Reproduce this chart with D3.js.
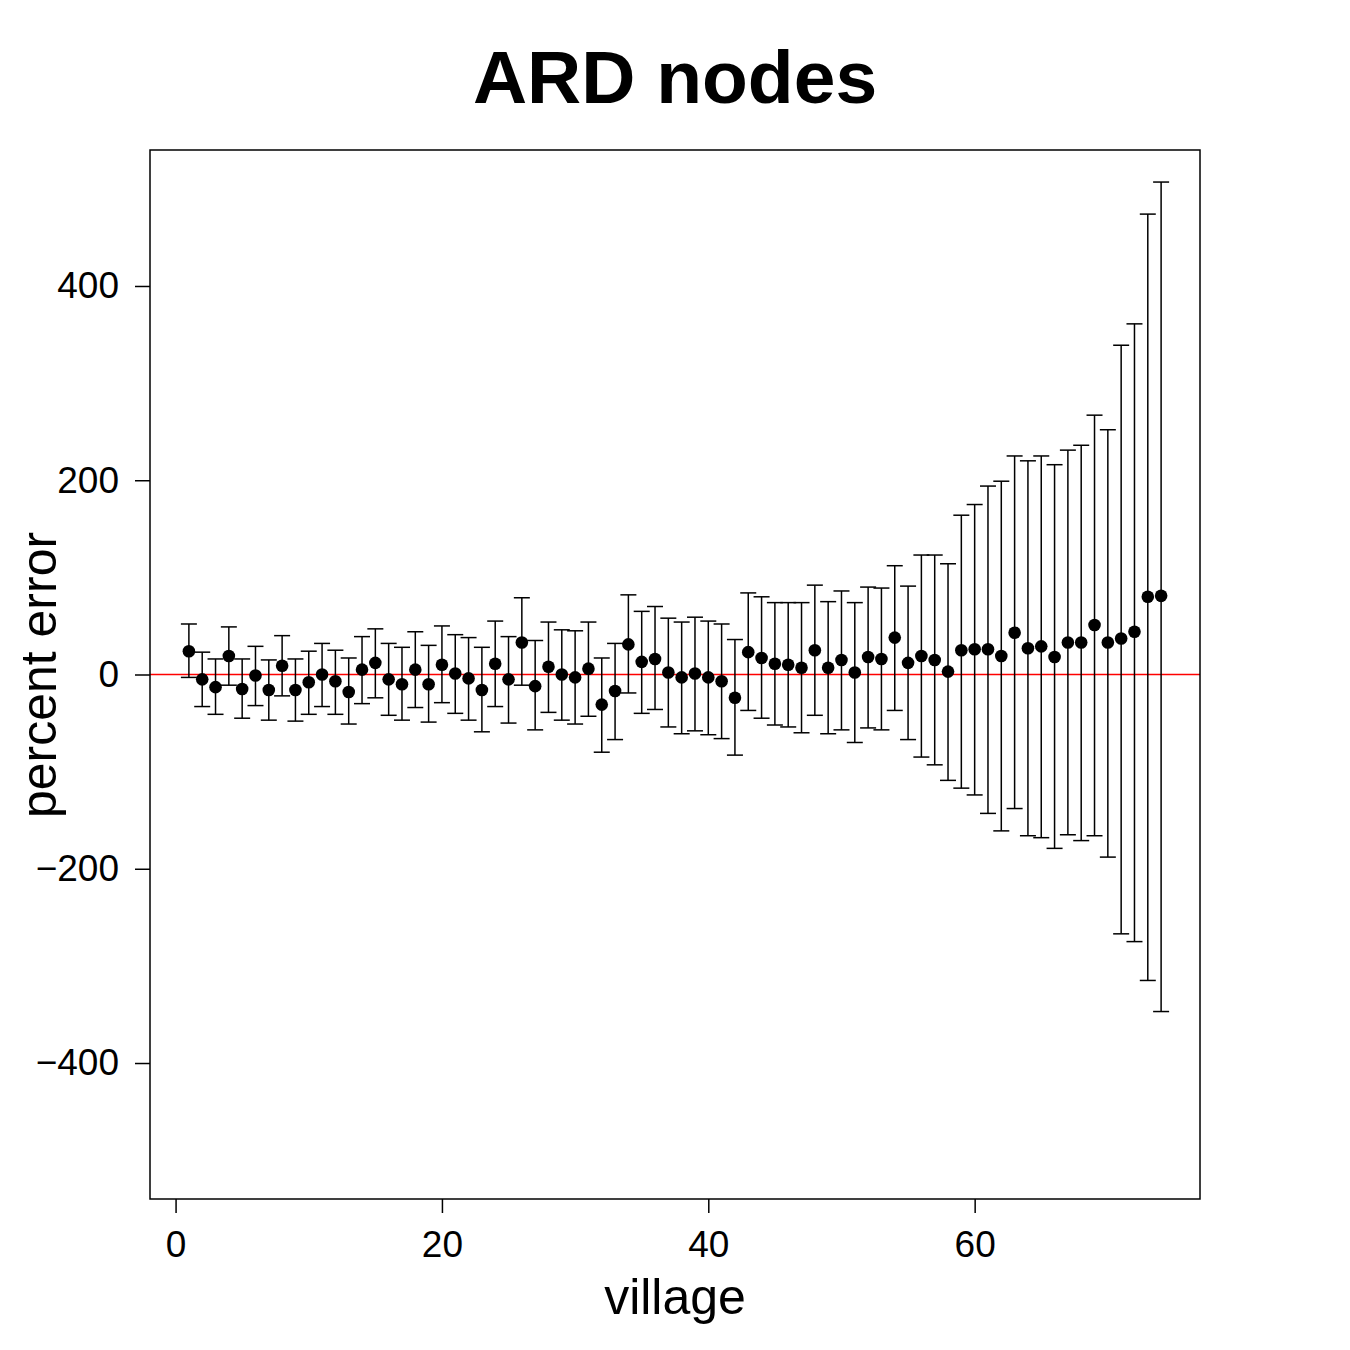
<!DOCTYPE html>
<html>
<head>
<meta charset="utf-8">
<script src="https://cdnjs.cloudflare.com/ajax/libs/d3/7.8.5/d3.min.js"></script>
<style>
  body { margin: 0; background: #fff; }
  text { font-family: "Liberation Sans", Arial, sans-serif; }
</style>
</head>
<body>
<div id="chart"></div>
<script>
// estimate, upper and lower end of interval per village (1..74)
var est = [24,-5,-13,19,-15,-1,-16,9,-16,-8,0,-7,-18,5,12,-5,-10,5,-10,10,
           1,-4,-16,11,-5,33,-12,8,0,-3,6,-31,-17,31,13,16,2,-3,1,-3,
           -7,-24,23,17,11,10,7,25,7,15,2,18,16,38,12,19,15,3,25,26,
           26,19,43,27,29,18,33,33,51,33,37,44,80,81];
var upper = [52,23,16,49,16,29,15,40,16,24,32,25,17,39,47,32,28,44,30,50,
             41,38,28,55,39,79,35,54,46,45,54,17,32,82,65,70,58,54,59,55,
             52,36,84,80,74,74,74,92,75,86,74,90,89,112,91,123,123,114,164,175,
             194,199,225,220,225,216,231,236,267,252,339,361,474,507];
var lower = [-3,-33,-41,-11,-45,-32,-47,-22,-48,-41,-33,-41,-51,-30,-24,-42,-47,-34,-49,-29,
             -40,-47,-59,-33,-50,-11,-57,-39,-47,-51,-43,-80,-67,-19,-40,-36,-54,-61,-58,-62,
             -66,-83,-37,-45,-52,-54,-60,-42,-61,-57,-70,-55,-57,-37,-67,-85,-93,-109,-117,-124,
             -143,-161,-138,-166,-168,-179,-165,-171,-166,-188,-267,-275,-315,-347];
var x_ticks = [0, 20, 40, 60];
var y_ticks = [-400, -200, 0, 200, 400];

var chart_width = 1350, chart_height = 1350;
var plot_left = 150, plot_right = 1200, plot_top = 150, plot_bottom = 1199;

var data = est.map(function(d, i){
    return {village: i + 1, est: d, hi: upper[i], lo: lower[i]};
});

var svg = d3.select('#chart')
            .append('svg')
            .attr('width', chart_width)
            .attr('height', chart_height);

// R style 4% padding around xlim 1..74 and ylim -500..500
var x = d3.scaleLinear().domain([1 - 73*0.04, 74 + 73*0.04]).range([plot_left, plot_right]);
var y = d3.scaleLinear().domain([-540, 540]).range([plot_bottom, plot_top]);

// title
svg.append('text')
   .attr('x', 675).attr('y', 103)
   .attr('text-anchor', 'middle')
   .attr('font-size', 75).attr('font-weight', 'bold')
   .text('ARD nodes');

// zero line
svg.append('line')
   .attr('x1', plot_left).attr('x2', plot_right)
   .attr('y1', y(0)).attr('y2', y(0))
   .attr('stroke', '#ff0000').attr('stroke-width', 1.5);

// error bars
var bars = svg.append('g').attr('stroke', '#000').attr('stroke-width', 1.5);
bars.selectAll('line.v')
    .data(data).enter().append('line')
    .attr('class', 'v')
    .attr('x1', function(d){ return x(d.village); })
    .attr('x2', function(d){ return x(d.village); })
    .attr('y1', function(d){ return y(d.hi); })
    .attr('y2', function(d){ return y(d.lo); });
bars.selectAll('line.hi')
    .data(data).enter().append('line')
    .attr('class', 'hi')
    .attr('x1', function(d){ return x(d.village) - 8; })
    .attr('x2', function(d){ return x(d.village) + 8; })
    .attr('y1', function(d){ return y(d.hi); })
    .attr('y2', function(d){ return y(d.hi); });
bars.selectAll('line.lo')
    .data(data).enter().append('line')
    .attr('class', 'lo')
    .attr('x1', function(d){ return x(d.village) - 8; })
    .attr('x2', function(d){ return x(d.village) + 8; })
    .attr('y1', function(d){ return y(d.lo); })
    .attr('y2', function(d){ return y(d.lo); });

// points
svg.selectAll('circle')
   .data(data).enter().append('circle')
   .attr('cx', function(d){ return x(d.village); })
   .attr('cy', function(d){ return y(d.est); })
   .attr('r', 6.3)
   .attr('fill', '#000');

// box
svg.append('rect')
   .attr('x', plot_left).attr('y', plot_top)
   .attr('width', plot_right - plot_left).attr('height', plot_bottom - plot_top)
   .attr('fill', 'none').attr('stroke', '#000').attr('stroke-width', 1.5);

// axes
var x_axis = d3.axisBottom(x).tickValues(x_ticks).tickSize(14).tickPadding(18);
var gx = svg.append('g').attr('transform', 'translate(0,' + plot_bottom + ')').call(x_axis);
gx.select('.domain').remove();
gx.selectAll('line').attr('stroke-width', 1.5);
gx.selectAll('text').attr('font-size', 37).attr('fill', '#000')
  .attr('font-family', '"Liberation Sans", Arial, sans-serif');

var y_axis = d3.axisLeft(y).tickValues(y_ticks).tickSize(15).tickPadding(16)
               .tickFormat(function(d){ return d < 0 ? '\u2212' + Math.abs(d) : d; });
var gy = svg.append('g').attr('transform', 'translate(' + plot_left + ',0)').call(y_axis);
gy.select('.domain').remove();
gy.selectAll('line').attr('stroke-width', 1.5);
gy.selectAll('text').attr('font-size', 37).attr('fill', '#000')
  .attr('font-family', '"Liberation Sans", Arial, sans-serif');

// axis labels
svg.append('text')
   .attr('x', 675).attr('y', 1314)
   .attr('text-anchor', 'middle')
   .attr('font-size', 50)
   .text('village');
svg.append('text')
   .attr('transform', 'translate(56,675) rotate(-90)')
   .attr('text-anchor', 'middle')
   .attr('font-size', 50)
   .text('percent error');
</script>
</body>
</html>
